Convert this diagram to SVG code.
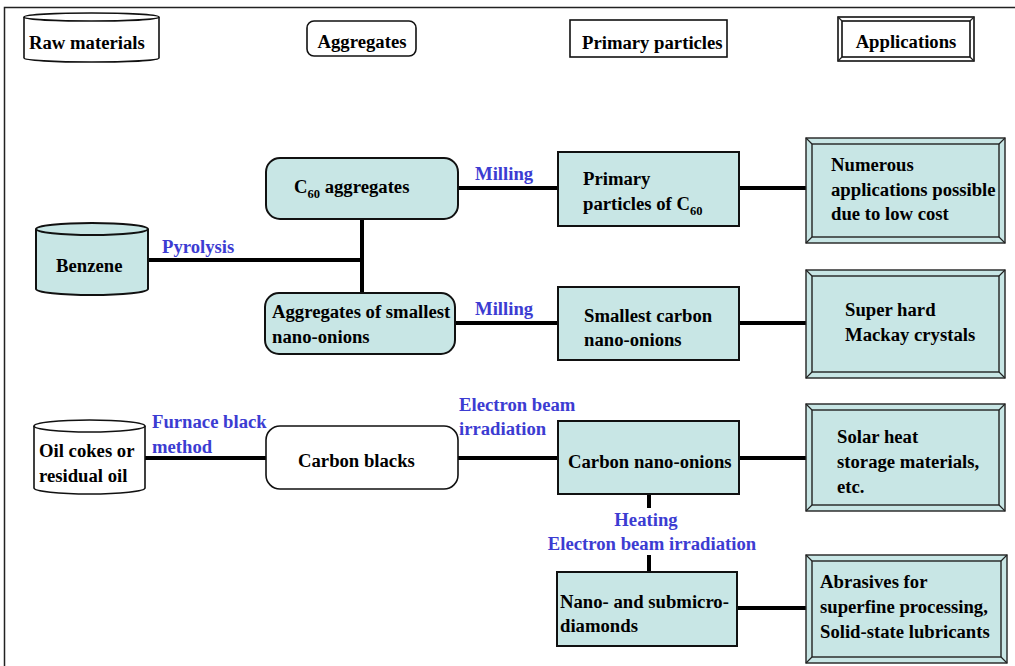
<svg xmlns="http://www.w3.org/2000/svg" width="1015" height="666" viewBox="0 0 1015 666">
<style>
text{font-family:"Liberation Serif","Times New Roman","DejaVu Serif",serif;font-weight:bold;font-size:18.7px;fill:#000}
.lbl{fill:#3c3cd2}
.sub{font-size:12.5px}
.box{fill:#c8e6e5;stroke:#111;stroke-width:2}
.hdr{fill:#fff;stroke:#111;stroke-width:1.6}
.bev{fill:#c8e6e5;stroke:#222;stroke-width:1.4}
.bevl{stroke:#222;stroke-width:1.2;fill:none}
.con line{stroke:#000;stroke-width:4}
</style>
<rect width="1015" height="666" fill="#fff"/>
<path d="M4.5 666 V7.5 H1015" fill="none" stroke="#222" stroke-width="1.5"/>

<g id="hdr-raw">
<path class="hdr" d="M24 17 V58 A67.5 4 0 0 0 159 58 V17"/>
<ellipse class="hdr" cx="91.5" cy="17" rx="67.5" ry="4"/>
<text x="29" y="49">Raw materials</text>
</g>
<g id="hdr-agg">
<rect class="hdr" x="307" y="21" width="109" height="35" rx="7"/>
<text x="362" y="48" text-anchor="middle">Aggregates</text>
</g>
<g id="hdr-prim">
<rect class="hdr" x="570" y="20" width="157" height="37"/>
<text x="582" y="49">Primary particles</text>
</g>
<g id="hdr-app">
<rect class="hdr" x="838" y="17" width="136" height="44"/>
<rect class="hdr" x="842" y="21" width="128" height="36"/>
<path class="bevl" d="M838 17 L842 21 M974 17 L970 21 M838 61 L842 57 M974 61 L970 57"/>
<text x="906" y="48" text-anchor="middle">Applications</text>
</g>

<g class="con" id="connectors">
<line x1="148" y1="260" x2="362" y2="260"/>
<line x1="362" y1="219" x2="362" y2="293"/>
<line x1="458" y1="188" x2="558" y2="188"/>
<line x1="739" y1="188" x2="806" y2="188"/>
<line x1="455" y1="323" x2="558" y2="323"/>
<line x1="739" y1="323" x2="806" y2="323"/>
<line x1="145" y1="458" x2="266" y2="458"/>
<line x1="458" y1="458" x2="558" y2="458"/>
<line x1="739" y1="458" x2="806" y2="458"/>
<line x1="649" y1="494" x2="649" y2="508"/>
<line x1="649" y1="555" x2="649" y2="572"/>
<line x1="737" y1="608" x2="806" y2="608"/>
</g>

<g id="lbl-pyrolysis"><text class="lbl" x="162" y="253">Pyrolysis</text></g>
<g id="lbl-milling1"><text class="lbl" x="475" y="180">Milling</text></g>
<g id="lbl-milling2"><text class="lbl" x="475" y="315">Milling</text></g>
<g id="lbl-furnace"><text class="lbl" x="152" y="428">Furnace black</text><text class="lbl" x="152" y="453">method</text></g>
<g id="lbl-ebeam"><text class="lbl" x="459" y="411">Electron beam</text><text class="lbl" x="459" y="435">irradiation</text></g>
<g id="lbl-heating"><text class="lbl" x="646" y="526" text-anchor="middle">Heating</text><text class="lbl" x="652" y="550" text-anchor="middle">Electron beam irradiation</text></g>

<g id="benzene">
<path class="box" d="M36 229 V289 A56 6 0 0 0 148 289 V229"/>
<ellipse class="box" cx="92" cy="229" rx="56" ry="6"/>
<text x="56" y="272">Benzene</text>
</g>
<g id="c60agg">
<rect class="box" x="266" y="158" width="192" height="61" rx="14"/>
<text x="294" y="193">C<tspan class="sub" dy="5">60</tspan><tspan dy="-5"> aggregates</tspan></text>
</g>
<g id="aggonions">
<rect class="box" x="265" y="293" width="190" height="61" rx="14"/>
<text x="272" y="318">Aggregates of smallest</text>
<text x="272" y="343">nano-onions</text>
</g>
<g id="primc60">
<rect class="box" x="558" y="152" width="181" height="74"/>
<text x="583" y="185">Primary</text>
<text x="583" y="210">particles of C<tspan class="sub" dy="5">60</tspan></text>
</g>
<g id="smallest">
<rect class="box" x="558" y="287" width="181" height="73"/>
<text x="584" y="322">Smallest carbon</text>
<text x="584" y="346">nano-onions</text>
</g>
<g id="oilcokes">
<path class="hdr" d="M34 426 V488 A55.5 6 0 0 0 145 488 V426"/>
<ellipse class="hdr" cx="89.5" cy="426" rx="55.5" ry="6"/>
<text x="39" y="457">Oil cokes or</text>
<text x="39" y="482">residual oil</text>
</g>
<g id="carbonblacks">
<rect class="hdr" x="266" y="426" width="192" height="63" rx="14"/>
<text x="298" y="467">Carbon blacks</text>
</g>
<g id="cno">
<rect class="box" x="558" y="421" width="181" height="73"/>
<text x="568" y="468">Carbon nano-onions</text>
</g>
<g id="diamonds">
<rect class="box" x="557" y="572" width="180" height="74"/>
<text x="560" y="608">Nano- and submicro-</text>
<text x="560" y="632">diamonds</text>
</g>

<g id="app-numerous">
<rect class="bev" x="806" y="138" width="199" height="105"/>
<rect class="bev" x="812" y="144" width="187" height="93"/>
<path class="bevl" d="M806 138 L812 144 M1005 138 L999 144 M806 243 L812 237 M1005 243 L999 237"/>
<text x="831" y="171">Numerous</text>
<text x="831" y="196">applications possible</text>
<text x="831" y="220">due to low cost</text>
</g>
<g id="app-mackay">
<rect class="bev" x="806" y="270" width="199" height="108"/>
<rect class="bev" x="812" y="276" width="187" height="96"/>
<path class="bevl" d="M806 270 L812 276 M1005 270 L999 276 M806 378 L812 372 M1005 378 L999 372"/>
<text x="845" y="316">Super hard</text>
<text x="845" y="341">Mackay crystals</text>
</g>
<g id="app-solar">
<rect class="bev" x="806" y="404" width="199" height="107"/>
<rect class="bev" x="812" y="410" width="187" height="95"/>
<path class="bevl" d="M806 404 L812 410 M1005 404 L999 410 M806 511 L812 505 M1005 511 L999 505"/>
<text x="837" y="443">Solar heat</text>
<text x="837" y="468">storage materials,</text>
<text x="837" y="493">etc.</text>
</g>
<g id="app-abrasives">
<rect class="bev" x="806" y="555" width="201" height="108"/>
<rect class="bev" x="812" y="561" width="189" height="96"/>
<path class="bevl" d="M806 555 L812 561 M1007 555 L1001 561 M806 663 L812 657 M1007 663 L1001 657"/>
<text x="820" y="588">Abrasives for</text>
<text x="820" y="613">superfine processing,</text>
<text x="820" y="638">Solid-state lubricants</text>
</g>
</svg>
